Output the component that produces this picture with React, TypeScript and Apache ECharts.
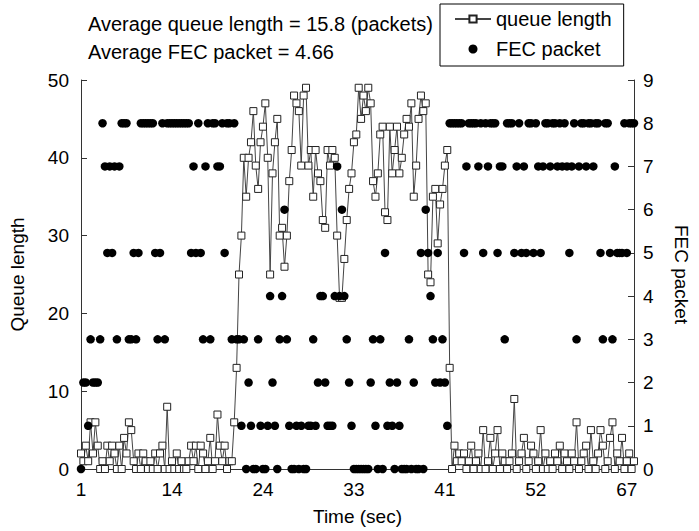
import React, { useEffect, useRef } from "react";
import * as echarts from "echarts";

// Header notes
const TITLE_LINES = ["Average queue length = 15.8 (packets)", "Average FEC packet = 4.66"];
const SERIES_NAMES = ["queue length", "FEC packet"];
const AXIS_NAMES = { x: "Time (sec)", left: "Queue length", right: "FEC packet" };

// x tick labels (time in sec), one label every SAMPLES_PER_LABEL samples
const TIME_LABELS = ["1", "14", "24", "33", "41", "52", "67"];
const SAMPLES_PER_LABEL = 38;

// Queue length (packets) per sample
const queueLength = [
  2, 1, 3, 1, 6, 2, 6, 3, 0, 1, 0, 3, 1, 3, 2, 0, 3, 0, 4, 2,
  6, 5, 1, 0, 2, 0, 2, 1, 0, 1, 0, 2, 0, 2, 3, 0, 8, 0, 1, 0,
  2, 0, 1, 0, 0, 1, 3, 1, 3, 0, 3, 2, 0, 1, 4, 0, 1, 7, 3, 1,
  3, 0, 1, 1,
  6, 13,
  25, 30, 40, 35, 40, 42, 46, 39, 36, 42, 44, 47, 40, 25, 38, 42, 45, 30, 31, 26,
  30, 37, 41, 48, 47, 46, 39, 48, 49, 39, 41, 35, 41, 38, 37, 32, 31, 41, 39, 41,
  40, 30, 22, 22, 27, 32, 36, 38, 42, 43, 49, 45, 48, 46, 49, 47, 37, 35, 38, 43,
  44, 33, 32, 44, 38, 41, 44, 38, 40, 43, 45, 44, 47, 35, 39, 45, 48, 46, 47, 25,
  24, 35, 36, 29, 34, 36, 39, 41,
  13, 0, 3, 1, 2, 1, 2, 0, 1, 3, 0, 1, 2, 0, 5, 0, 1, 4, 0, 2,
  5, 0, 2, 1, 0, 1, 2, 9, 0, 1, 2, 4, 0, 1, 3, 2, 0, 1, 5, 0,
  2, 0, 1, 0, 2, 1, 3, 0, 2, 1, 0, 2, 1, 6, 0, 1, 2, 3, 0, 5,
  1, 0, 2, 5, 3, 0, 1, 4, 6, 0, 2, 1, 4, 0, 1, 2, 0, 1,
];

// FEC packets per sample
const fecPacket = [
  0, 2, 2, 1, 3, 2, 2, 2, 3, 8, 7, 5, 7, 5, 7, 3, 7, 8, 8, 8,
  3, 3, 5, 3, 5, 8, 8, 8, 8, 8, 8, 5, 3, 5, 8, 3, 8, 8, 8, 8,
  8, 8, 8, 8, 8, 8, 5, 7, 5, 8, 5, 3, 7, 8, 3, 8, 8, 7, 7, 8,
  5, 8, 8, 3, 8, 3,
  3, 1, 3, 0, 2, 1, 0, 0, 3, 1, 0, 0, 1, 4, 2, 1, 0, 3, 4, 6,
  3, 1, 0, 0, 1, 0, 1, 0, 0, 1, 1, 3, 1, 2, 4, 4, 2, 1, 1, 1,
  4, 7, 4, 6, 4, 3, 2, 1, 0, 0, 0, 0, 0, 0, 0, 2, 3, 1, 0, 3,
  0, 5, 1, 2, 1, 0, 2, 1, 0, 0, 0, 3, 0, 2, 0, 0, 5, 0, 6, 5,
  4, 3, 2, 5, 2, 3, 2, 1,
  8, 8, 8, 8, 8, 8, 5, 7, 8, 8, 8, 8, 7, 8, 5, 8, 7, 8, 8, 8,
  5, 7, 7, 3, 8, 8, 8, 5, 7, 8, 5, 7, 5, 8, 8, 5, 8, 7, 5, 7,
  8, 8, 7, 8, 8, 7, 8, 7, 8, 7, 5, 7, 8, 3, 7, 8, 8, 7, 8, 8,
  7, 8, 8, 5, 3, 8, 8, 5, 3, 7, 5, 5, 5, 8, 5, 8, 8, 8,
];

const FONT = "'Liberation Sans', Arial, Helvetica, sans-serif";

export default function App() {
  const ref = useRef<HTMLDivElement>(null);

  useEffect(() => {
    if (!ref.current) return;
    const chart = echarts.init(ref.current, null, { renderer: "svg" });
    const axisLineStyle = { color: "#333", width: 1 };
    const lastIndex = queueLength.length - 1;

    chart.setOption({
      animation: false,
      backgroundColor: "#fff",
      textStyle: { fontFamily: FONT, color: "#000" },
      title: [
        {
          text: TITLE_LINES[0],
          left: 88,
          top: 14,
          padding: 0,
          textStyle: { fontFamily: FONT, fontSize: 20, fontWeight: "normal", color: "#000" },
        },
        {
          text: TITLE_LINES[1],
          left: 88,
          top: 42,
          padding: 0,
          textStyle: { fontFamily: FONT, fontSize: 20, fontWeight: "normal", color: "#000" },
        },
      ],
      legend: {
        orient: "vertical",
        left: 440,
        top: 4,
        padding: [4, 12, 6, 14],
        itemGap: 8,
        itemWidth: 36,
        itemHeight: 9,
        borderColor: "#000",
        borderWidth: 1,
        borderRadius: 0,
        textStyle: { fontFamily: FONT, fontSize: 20, lineHeight: 22, color: "#000" },
        data: [{ name: SERIES_NAMES[0] }, { name: SERIES_NAMES[1], icon: "circle" }],
      },
      grid: { left: 80, right: 59, top: 80, bottom: 58 },
      xAxis: {
        type: "value",
        min: 0,
        max: lastIndex,
        interval: SAMPLES_PER_LABEL,
        name: AXIS_NAMES.x,
        nameLocation: "middle",
        nameGap: 38,
        nameTextStyle: { fontFamily: FONT, fontSize: 19, color: "#000" },
        axisLine: { show: true, lineStyle: axisLineStyle },
        axisTick: { show: false },
        splitLine: { show: false },
        axisLabel: {
          fontFamily: FONT,
          fontSize: 19,
          color: "#000",
          margin: 11,
          showMaxLabel: false,
          formatter: (v: number) => {
            const k = Math.round(v / SAMPLES_PER_LABEL);
            return Math.abs(k * SAMPLES_PER_LABEL - v) < 1e-6 && TIME_LABELS[k] !== undefined ? TIME_LABELS[k] : "";
          },
        },
      },
      yAxis: [
        {
          type: "value",
          min: 0,
          max: 50,
          interval: 10,
          position: "left",
          name: AXIS_NAMES.left,
          nameLocation: "middle",
          nameGap: 54,
          nameRotate: 90,
          nameTextStyle: { fontFamily: FONT, fontSize: 19, color: "#000" },
          axisLine: { show: true, lineStyle: axisLineStyle },
          axisTick: { show: true, inside: true, length: 6, lineStyle: axisLineStyle },
          splitLine: { show: false },
          axisLabel: { fontFamily: FONT, fontSize: 19, color: "#000", margin: 12 },
        },
        {
          type: "value",
          min: 0,
          max: 9,
          interval: 1,
          position: "right",
          name: AXIS_NAMES.right,
          nameLocation: "middle",
          nameGap: 38,
          nameRotate: -90,
          nameTextStyle: { fontFamily: FONT, fontSize: 19, color: "#000" },
          axisLine: { show: true, lineStyle: axisLineStyle },
          axisTick: { show: true, inside: true, length: 6, lineStyle: axisLineStyle },
          splitLine: { show: false },
          axisLabel: { fontFamily: FONT, fontSize: 19, color: "#000", margin: 9 },
        },
      ],
      series: [
        {
          name: SERIES_NAMES[0],
          type: "line",
          xAxisIndex: 0,
          yAxisIndex: 0,
          data: queueLength.map((v, i) => [i, v]),
          symbol: "rect",
          symbolSize: 7,
          showAllSymbol: true,
          itemStyle: { color: "#fff", borderColor: "#222", borderWidth: 1 },
          lineStyle: { color: "#444", width: 1 },
          z: 2,
        },
        {
          name: SERIES_NAMES[1],
          type: "scatter",
          xAxisIndex: 0,
          yAxisIndex: 1,
          data: fecPacket.map((v, i) => [i, v]),
          symbol: "circle",
          symbolSize: 8.5,
          itemStyle: { color: "#000", opacity: 1 },
          z: 3,
        },
      ],
    });

    return () => chart.dispose();
  }, []);

  return (
    <div
      ref={ref}
      style={{ position: "fixed", left: 0, top: 0, width: 699, height: 531, background: "#fff" }}
    />
  );
}
